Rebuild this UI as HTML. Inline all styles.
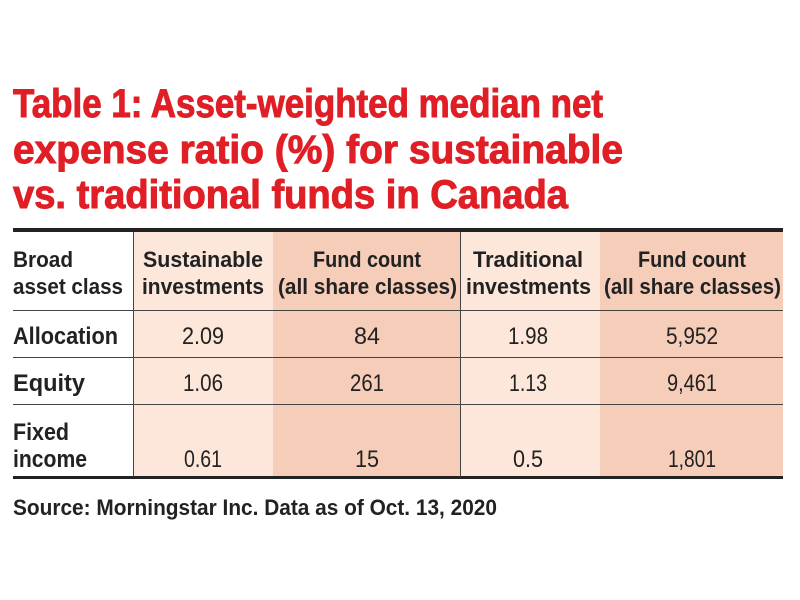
<!DOCTYPE html>
<html><head><meta charset="utf-8"><style>
body{margin:0;width:800px;height:600px;background:#fff;position:relative;overflow:hidden;font-family:"Liberation Sans",sans-serif}
.a{position:absolute}
.t{position:absolute;white-space:nowrap;line-height:1}
.ti{color:#e01e26;font-weight:bold;font-size:40px;left:13px;transform-origin:0 0;-webkit-text-stroke:1px #e01e26}
.h{font-weight:bold;font-size:22px;color:#222}
.n{font-size:24px;color:#222}
</style></head><body>
<div class="a" style="left:133px;top:231px;width:140px;height:247px;background:#fde6da"></div>
<div class="a" style="left:273px;top:231px;width:187px;height:247px;background:#f6cdb9"></div>
<div class="a" style="left:460px;top:231px;width:140px;height:247px;background:#fde6da"></div>
<div class="a" style="left:600px;top:231px;width:183px;height:247px;background:#f6cdb9"></div>
<div class="a" style="left:13px;top:228px;width:770px;height:4px;background:#222"></div>
<div class="a" style="left:13px;top:476px;width:770px;height:3px;background:#222"></div>
<div class="a" style="left:13px;top:310px;width:770px;height:1px;background:#444"></div>
<div class="a" style="left:13px;top:357px;width:770px;height:1px;background:#444"></div>
<div class="a" style="left:13px;top:404px;width:770px;height:1px;background:#444"></div>
<div class="a" style="left:133px;top:232px;width:1px;height:245px;background:#444"></div>
<div class="a" style="left:460px;top:232px;width:1px;height:245px;background:#444"></div>

<div class="t ti" w="590" style="top:84px">Table 1: Asset-weighted median net</div>
<div class="t ti" w="610" style="top:130px">expense ratio (%) for sustainable</div>
<div class="t ti" w="555" style="top:175px">vs. traditional funds in Canada</div>

<div class="t h" l="13" w="60" style="top:249px">Broad</div>
<div class="t h" l="13" w="110" style="top:276px">asset class</div>
<div class="t h" c="203" w="120" style="top:249px">Sustainable</div>
<div class="t h" c="203" w="122" style="top:276px">investments</div>
<div class="t h" c="367" w="108" style="top:249px">Fund count</div>
<div class="t h" c="367" w="179" style="top:276px">(all share classes)</div>
<div class="t h" c="528" w="110" style="top:249px">Traditional</div>
<div class="t h" c="528" w="125" style="top:276px">investments</div>
<div class="t h" c="692" w="108" style="top:249px">Fund count</div>
<div class="t h" c="692" w="177" style="top:276px">(all share classes)</div>

<div class="t h" l="13" w="105" style="top:325px;font-size:24px">Allocation</div>
<div class="t h" l="13" w="72" style="top:372px;font-size:24px">Equity</div>
<div class="t h" l="13" w="56" style="top:421px;font-size:24px">Fixed</div>
<div class="t h" l="13" w="74" style="top:448px;font-size:24px">income</div>

<div class="t n" c="203" w="42" style="top:325px">2.09</div>
<div class="t n" c="367" w="26" style="top:325px">84</div>
<div class="t n" c="528" w="40" style="top:325px">1.98</div>
<div class="t n" c="692" w="52" style="top:325px">5,952</div>
<div class="t n" c="203" w="40" style="top:372px">1.06</div>
<div class="t n" c="367" w="34" style="top:372px">261</div>
<div class="t n" c="528" w="38" style="top:372px">1.13</div>
<div class="t n" c="692" w="50" style="top:372px">9,461</div>
<div class="t n" c="203" w="38" style="top:448px">0.61</div>
<div class="t n" c="367" w="24" style="top:448px">15</div>
<div class="t n" c="528" w="30" style="top:448px">0.5</div>
<div class="t n" c="692" w="48" style="top:448px">1,801</div>

<div class="t h" l="13" w="484" style="top:497px">Source: Morningstar Inc. Data as of Oct. 13, 2020</div>
<script>
document.querySelectorAll('.t').forEach(function(e){
  var w=+e.getAttribute('w'); if(!w) return;
  var r=e.getBoundingClientRect().width; var s=w/r;
  e.style.transformOrigin='0 0'; e.style.transform='scaleX('+s+')';
  if(e.hasAttribute('c')) e.style.left=(+e.getAttribute('c')-w/2)+'px';
  else if(e.hasAttribute('l')) e.style.left=e.getAttribute('l')+'px';
});
</script>
</body></html>
